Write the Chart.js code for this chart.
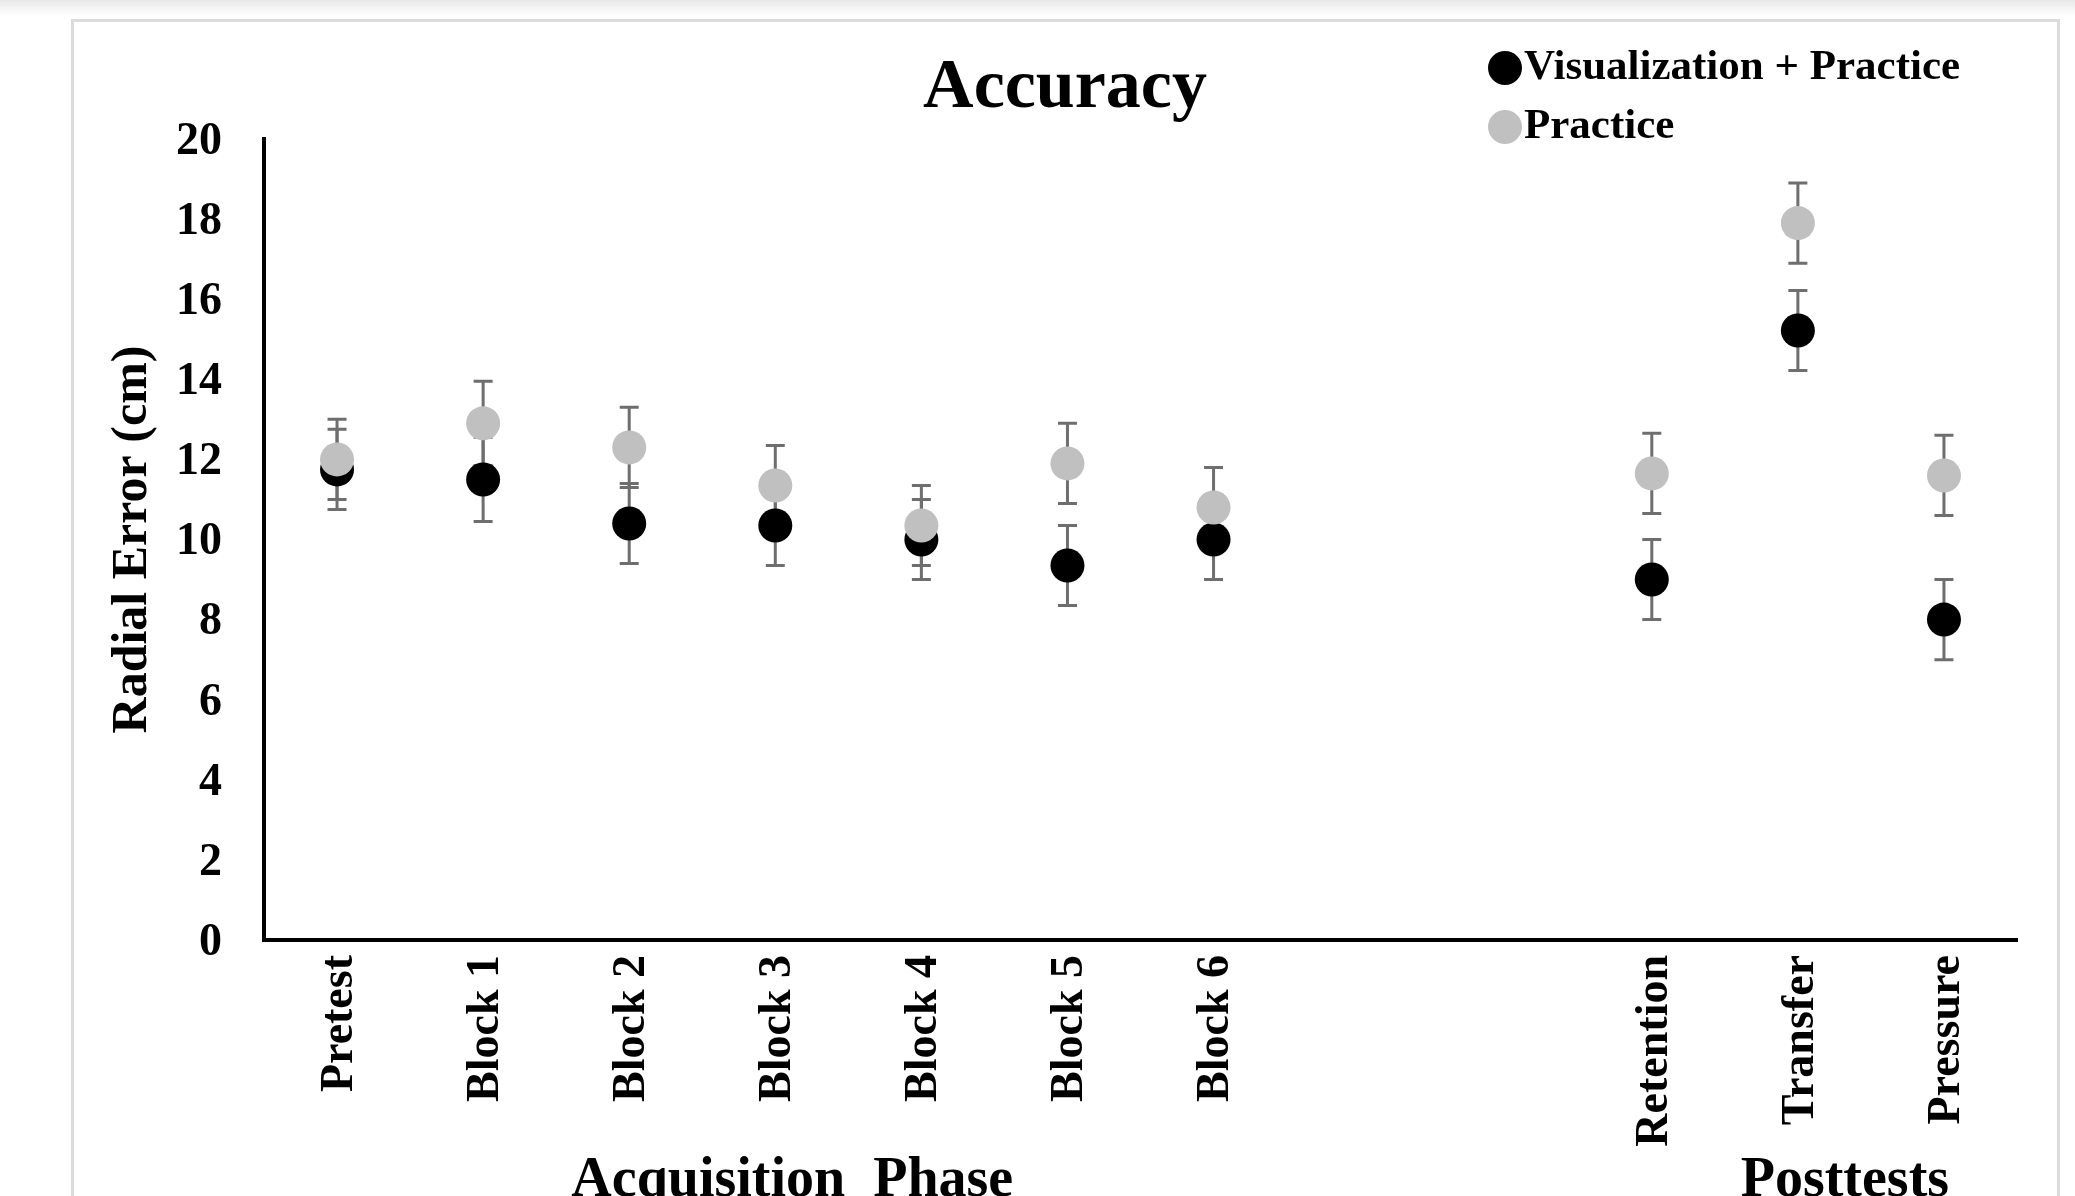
<!DOCTYPE html>
<html>
<head>
<meta charset="utf-8">
<title>Accuracy</title>
<script src="https://cdn.jsdelivr.net/npm/chart.js@4.4.1/dist/chart.umd.min.js"></script>
<style>
  html, body { margin: 0; padding: 0; background: #fff; }
  body { width: 2075px; height: 1196px; position: relative; overflow: hidden; }
  .topstrip { position: absolute; left: 0; top: 0; width: 2075px; height: 16px; background: linear-gradient(#e8e8e8, #ffffff); }
  .panel { position: absolute; left: 71px; top: 19px; width: 1983px; height: 1300px; border: 3px solid #dcdcdc; background: #fff; }
  #accuracy { position: absolute; left: 0; top: 0; }
</style>
</head>
<body>
<div class="topstrip"></div>
<div class="panel"></div>
<canvas id="accuracy" width="2075" height="1196"></canvas>
<script>
// DATA
const categories = ['Pretest', 'Block 1', 'Block 2', 'Block 3', 'Block 4', 'Block 5', 'Block 6', '', '', 'Retention', 'Transfer', 'Pressure'];

const visPractice = [11.75, 11.5, 10.4, 10.35, 10.0, 9.35, 10.0, null, null, 9.0, 15.22, 8.0];
const visPracticeErr = [1.0, 1.05, 1.0, 1.0, 1.0, 1.0, 1.0, null, null, 1.0, 1.0, 1.0];

const practice = [12.0, 12.9, 12.3, 11.35, 10.35, 11.9, 10.8, null, null, 11.65, 17.9, 11.6];
const practiceErr = [1.0, 1.05, 1.0, 1.0, 1.0, 1.0, 1.0, null, null, 1.0, 1.0, 1.0];

const yTicks = [0, 2, 4, 6, 8, 10, 12, 14, 16, 18, 20];

const serif = "'Liberation Serif', 'Times New Roman', serif";

// error bars, drawn under the markers
const errorBars = {
    id: 'errorBars',
    beforeDatasetsDraw(chart) {
        const { ctx, scales: { x, y } } = chart;
        ctx.save();
        ctx.strokeStyle = '#6e6e6e';
        ctx.lineWidth = 3;
        chart.data.datasets.forEach((ds) => {
            ds.data.forEach((v, i) => {
                const err = ds.errors[i];
                if (v === null || err === null) return;
                const px = x.getPixelForValue(i);
                const top = y.getPixelForValue(v + err);
                const bottom = y.getPixelForValue(v - err);
                ctx.beginPath();
                ctx.moveTo(px, top);
                ctx.lineTo(px, bottom);
                ctx.moveTo(px - 9.5, top);
                ctx.lineTo(px + 9.5, top);
                ctx.moveTo(px - 9.5, bottom);
                ctx.lineTo(px + 9.5, bottom);
                ctx.stroke();
            });
        });
        ctx.restore();
    }
};

// title, legend and the two group labels under the axis
const annotations = {
    id: 'annotations',
    afterDraw(chart) {
        const { ctx, scales: { x } } = chart;
        ctx.save();
        ctx.fillStyle = '#000';
        ctx.textBaseline = 'alphabetic';

        ctx.textAlign = 'center';
        ctx.font = `bold 70px ${serif}`;
        ctx.fillText('Accuracy', 1065, 107);

        ctx.textAlign = 'left';
        ctx.font = `bold 43px ${serif}`;
        chart.data.datasets.forEach((ds, i) => {
            const cy = 68 + i * 59;
            ctx.fillStyle = ds.backgroundColor;
            ctx.beginPath();
            ctx.arc(1505, cy, 17, 0, Math.PI * 2);
            ctx.fill();
            ctx.fillStyle = '#000';
            ctx.fillText(ds.label, 1524, cy + 11);
        });

        ctx.textAlign = 'center';
        ctx.font = `bold 56px ${serif}`;
        ctx.fillText('Acquisition  Phase', x.getPixelForValue(3) + 17, 1196);
        ctx.fillText('Posttests', x.getPixelForValue(10) + 47, 1196);
        ctx.restore();
    }
};

new Chart(document.getElementById('accuracy'), {
    type: 'line',
    data: {
        labels: categories,
        datasets: [
            {
                label: 'Visualization + Practice',
                data: visPractice,
                errors: visPracticeErr,
                backgroundColor: '#000000',
                borderColor: '#000000',
                showLine: false,
                pointRadius: 17,
                pointHoverRadius: 17,
                pointBorderWidth: 0,
                order: 2,
            },
            {
                label: 'Practice',
                data: practice,
                errors: practiceErr,
                backgroundColor: '#c0c0c0',
                borderColor: '#c0c0c0',
                showLine: false,
                pointRadius: 17,
                pointHoverRadius: 17,
                pointBorderWidth: 0,
                order: 1,
            }
        ]
    },
    options: {
        responsive: false,
        animation: false,
        plugins: {
            legend: { display: false },
            title: { display: false },
            tooltip: { enabled: false },
        },
        layout: {
            padding: { left: 0, right: 58, top: 139, bottom: 0 }
        },
        scales: {
            x: {
                type: 'category',
                offset: true,
                grid: { display: false, drawTicks: false },
                border: { display: true, color: '#000', width: 4 },
                ticks: {
                    autoSkip: false,
                    maxRotation: 90,
                    minRotation: 90,
                    padding: 15,
                    labelOffset: 3,
                    color: '#000',
                    font: { family: serif, size: 46, weight: 'bold' },
                },
                afterFit: (scale) => { scale.height = 256; },
            },
            y: {
                min: 0,
                max: 20,
                afterBuildTicks: (scale) => { scale.ticks = yTicks.map(v => ({ value: v })); },
                grid: { display: false, drawTicks: false },
                border: { display: true, color: '#000', width: 4 },
                ticks: {
                    padding: 42,
                    labelOffset: 3,
                    color: '#000',
                    font: { family: serif, size: 46, weight: 'bold' },
                },
                title: {
                    display: true,
                    text: 'Radial Error (cm)',
                    color: '#000',
                    padding: { top: 103, bottom: 0 },
                    font: { family: serif, size: 50, weight: 'bold' },
                },
                afterFit: (scale) => { scale.width = 264; },
            }
        }
    },
    plugins: [errorBars, annotations],
});
</script>
</body>
</html>
